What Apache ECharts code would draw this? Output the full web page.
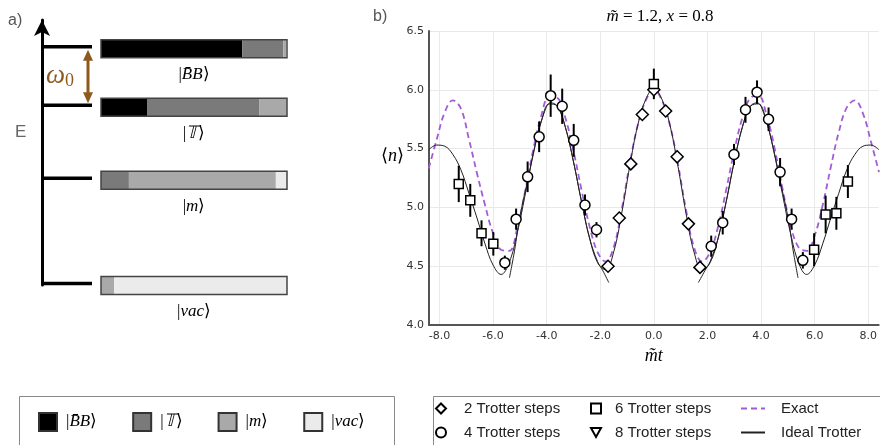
<!DOCTYPE html>
<html>
<head>
<meta charset="utf-8">
<script src="https://cdn.jsdelivr.net/npm/echarts@6/dist/echarts.min.js"></script>
<style>
html, body { margin: 0; padding: 0; background: #fff; }
#chart { width: 880px; height: 445px; }
</style>
</head>
<body>
<div id="chart"></div>
<script>
// panel a: energy levels and how each state is made up
var stateKets = ['B\u0304B', '\ud835\udd4b', 'm', 'vac'];
var stateEnergy = [8.99, 6.78, 4.03, 0.06];
var compBB = [0.76, 0.25, 0, 0];
var compT = [0.22, 0.60, 0.15, 0];
var compM = [0.015, 0.15, 0.79, 0.07];
var compVac = [0.005, 0, 0.06, 0.93];

// panel b: curves
var exactT = [-8.4, -8.1, -7.8, -7.5, -7.2, -6.9, -6.6, -6.3, -6.0, -5.7, -5.4, -5.1, -4.8, -4.5, -4.2, -3.9, -3.6, -3.3, -3.0, -2.7, -2.4, -2.1, -1.8, -1.5, -1.2, -0.9, -0.6, -0.3,
  0, 0.3, 0.6, 0.9, 1.2, 1.5, 1.8, 2.1, 2.4, 2.7, 3.0, 3.3, 3.6, 3.9, 4.2, 4.5, 4.8, 5.1, 5.4, 5.7, 6.0, 6.3, 6.6, 6.9, 7.2, 7.5, 7.8, 8.1, 8.4];
var exactN = [5.33, 5.58, 5.81, 5.91, 5.84, 5.58, 5.29, 5.02, 4.78, 4.64, 4.63, 4.82, 5.14, 5.49, 5.78, 5.94, 5.93, 5.76, 5.48, 5.15, 4.84, 4.62, 4.54, 4.66, 4.98, 5.37, 5.70, 5.91,
  6.00, 5.91, 5.70, 5.37, 4.98, 4.66, 4.54, 4.62, 4.84, 5.15, 5.48, 5.76, 5.93, 5.95, 5.79, 5.51, 5.16, 4.85, 4.66, 4.63, 4.76, 5.02, 5.34, 5.64, 5.85, 5.91, 5.80, 5.56, 5.30];
var idealN = [5.49, 5.53, 5.52, 5.45, 5.32, 5.12, 4.91, 4.69, 4.51, 4.43, 4.53, 4.78, 5.11, 5.45, 5.73, 5.88, 5.86, 5.68, 5.39, 5.05, 4.74, 4.53, 4.47, 4.62, 4.95, 5.35, 5.70, 5.92,
  6.01, 5.92, 5.70, 5.35, 4.95, 4.62, 4.47, 4.53, 4.74, 5.05, 5.39, 5.68, 5.86, 5.88, 5.73, 5.45, 5.11, 4.78, 4.53, 4.43, 4.51, 4.69, 4.91, 5.12, 5.32, 5.45, 5.52, 5.53, 5.49];
var idealLeftT = [-5.39, -5.2, -5.0, -4.7, -4.4, -4.1, -3.85, -3.6, -3.3, -3.0, -2.7, -2.4, -2.1, -1.9, -1.68];
var idealLeftN = [4.40, 4.63, 4.92, 5.24, 5.56, 5.80, 5.89, 5.86, 5.68, 5.39, 5.05, 4.74, 4.54, 4.46, 4.36];
var idealRightT = [1.66, 1.9, 2.1, 2.4, 2.7, 3.0, 3.3, 3.6, 3.85, 4.1, 4.4, 4.7, 5.0, 5.2, 5.38];
var idealRightN = [4.36, 4.46, 4.54, 4.74, 5.05, 5.39, 5.68, 5.86, 5.89, 5.80, 5.56, 5.24, 4.92, 4.63, 4.40];

// panel b: measured points
var diamondT = [-1.71, -1.29, -0.86, -0.43, 0, 0.44, 0.87, 1.29, 1.72];
var diamondN = [4.50, 4.91, 5.37, 5.79, 6.00, 5.82, 5.43, 4.86, 4.49];
var circleT = [-5.56, -5.14, -4.71, -4.28, -3.85, -3.42, -2.99, -2.57, -2.14, 2.14, 2.57, 2.99, 3.42, 3.85, 4.28, 4.71, 5.14, 5.56];
var circleN = [4.53, 4.90, 5.26, 5.60, 5.95, 5.86, 5.57, 5.02, 4.81, 4.67, 4.87, 5.45, 5.83, 5.98, 5.75, 5.30, 4.90, 4.55];
var circleErr = [0.06, 0.09, 0.13, 0.13, 0.18, 0.15, 0.14, 0.09, 0.065, 0.09, 0.10, 0.09, 0.11, 0.10, 0.10, 0.12, 0.09, 0.07];
var squareT = [-7.28, -6.85, -6.43, -5.99, 0, 5.98, 6.41, 6.81, 7.24];
var squareN = [5.20, 5.06, 4.78, 4.69, 6.05, 4.64, 4.94, 4.95, 5.22];
var squareErr = [0.155, 0.14, 0.11, 0.10, 0.13, 0.14, 0.16, 0.14, 0.14];
var triangleT = [];
var triangleN = [];

var xTicks = [-8, -6, -4, -2, 0, 2, 4, 6, 8];

var chart = echarts.init(document.getElementById('chart'), null, { renderer: 'canvas' });

var serif = 'Liberation Serif';
var compColors = ['#000000', '#7a7a7a', '#a9a9a9', '#ebebeb'];
var comps = [compBB, compT, compM, compVac];

function ketName(k) { return '|' + stateKets[k] + '\u27e9'; }
function ketRich(name) { return '{u||}{i|' + name.slice(1, -1) + '}{u|\u27e9}'; }
function zip(a, b, c) {
  return a.map(function (v, i) { return c ? [v, b[i], c[i]] : [v, b[i]]; });
}

// composition bars, one series per component
var compSeries = comps.map(function (frac, k) {
  var data = stateEnergy.map(function (e, i) {
    var start = 0;
    for (var j = 0; j < k; j++) start += comps[j][i];
    return [start, start + frac[i], e];
  });
  return {
    type: 'custom', name: ketName(k), xAxisIndex: 2, yAxisIndex: 2,
    itemStyle: { color: compColors[k], borderColor: '#333', borderWidth: 1.5 },
    encode: { x: [0, 1], y: 2 },
    renderItem: function (params, api) {
      var p0 = api.coord([api.value(0), api.value(2)]);
      var p1 = api.coord([api.value(1), api.value(2)]);
      return {
        type: 'rect',
        shape: { x: p0[0], y: p0[1] - 7, width: p1[0] - p0[0], height: 18 },
        style: { fill: compColors[k] }
      };
    },
    data: data, z: 2
  };
});

// outline and ket label of each bar
var outlineSeries = {
  type: 'custom', xAxisIndex: 2, yAxisIndex: 2, z: 3,
  encode: { x: [0, 1], y: 2 },
  renderItem: function (params, api) {
    var p0 = api.coord([0, api.value(2)]);
    var p1 = api.coord([1, api.value(2)]);
    return {
      type: 'group',
      children: [{
        type: 'rect',
        shape: { x: p0[0], y: p0[1] - 7, width: p1[0] - p0[0], height: 18 },
        style: { fill: null, stroke: '#444', lineWidth: 1.5 }
      }, {
        type: 'text',
        style: {
          x: (p0[0] + p1[0]) / 2, y: p0[1] + 28, align: 'center', verticalAlign: 'middle',
          text: ketRich(ketName(params.dataIndex)),
          rich: {
            u: { fontFamily: serif, fontSize: 17, fill: '#000' },
            i: { fontFamily: serif, fontSize: 17, fontStyle: 'italic', fill: '#000' }
          }
        }
      }]
    };
  },
  data: stateEnergy.map(function (e) { return [0, 1, e]; })
};

// level ticks on the energy axis
var levelSeries = {
  type: 'custom', xAxisIndex: 1, yAxisIndex: 1, z: 3,
  encode: { x: [0, 1], y: 2 },
  renderItem: function (params, api) {
    var p0 = api.coord([api.value(0), api.value(2)]);
    var p1 = api.coord([api.value(1), api.value(2)]);
    return {
      type: 'line',
      shape: { x1: p0[0], y1: p0[1], x2: p1[0], y2: p1[1] },
      style: { stroke: '#000', lineWidth: 3.5 }
    };
  },
  data: stateEnergy.map(function (e) { return [0, 1, e]; })
};

// omega_0 gap arrow between the two highest levels
var gapSeries = {
  type: 'custom', xAxisIndex: 1, yAxisIndex: 1, z: 4,
  encode: { x: 0, y: [1, 2] },
  renderItem: function (params, api) {
    var top = api.coord([api.value(0), api.value(1)]);
    var bot = api.coord([api.value(0), api.value(2)]);
    var x = top[0], y0 = top[1] + 3, y1 = bot[1] - 2;
    var mid = api.coord([0.36, (api.value(1) + api.value(2)) / 2]);
    var brown = '#8c5a1e';
    return {
      type: 'group',
      children: [{
        type: 'line', shape: { x1: x, y1: y0 + 8, x2: x, y2: y1 - 8 },
        style: { stroke: brown, lineWidth: 3 }
      }, {
        type: 'polygon', shape: { points: [[x, y0], [x - 5, y0 + 11], [x + 5, y0 + 11]] },
        style: { fill: brown }
      }, {
        type: 'polygon', shape: { points: [[x, y1], [x - 5, y1 - 11], [x + 5, y1 - 11]] },
        style: { fill: brown }
      }, {
        type: 'text',
        style: {
          x: mid[0], y: mid[1], align: 'center', verticalAlign: 'middle',
          text: '{w|\u03c9}{s|0}',
          rich: {
            w: { fontFamily: serif, fontStyle: 'italic', fontSize: 27, fill: brown },
            s: { fontFamily: serif, fontSize: 18, fill: brown, padding: [10, 0, 0, 0] }
          }
        }
      }]
    };
  },
  data: [[0.92, stateEnergy[0], stateEnergy[1]]]
};

function errSeries(data) {
  return {
    type: 'custom', xAxisIndex: 0, yAxisIndex: 0, z: 4,
    encode: { x: 0, y: 1 },
    renderItem: function (params, api) {
      var x = api.value(0), v = api.value(1), e = api.value(2);
      var lo = api.coord([x, v - e]), hi = api.coord([x, v + e]);
      return {
        type: 'line', shape: { x1: lo[0], y1: lo[1], x2: hi[0], y2: hi[1] },
        style: { stroke: '#000', lineWidth: 2 }
      };
    },
    data: data
  };
}

var markerStyle = { color: '#fff', borderColor: '#000', borderWidth: 1.5, opacity: 1 };
var legendFont = { fontFamily: 'Liberation Sans', fontSize: 15, color: '#222' };

var option = {
  animation: false,
  backgroundColor: '#fff',
  title: {
    text: '{i|m\u0303} = 1.2, {i|x} = 0.8',
    left: 655, top: 3, textAlign: 'center',
    textStyle: {
      fontFamily: serif, fontSize: 17, fontWeight: 'normal', color: '#000',
      rich: { i: { fontFamily: serif, fontSize: 17, fontStyle: 'italic', color: '#000' } }
    }
  },
  grid: [
    { left: 429, top: 31, width: 453, height: 294 },
    { left: 42, top: 20, width: 50, height: 265 },
    { left: 101, top: 20, width: 186, height: 265 }
  ],
  xAxis: [{
    gridIndex: 0, type: 'value', min: -8.39, max: 8.39,
    axisLine: { show: true, onZero: false, lineStyle: { color: '#555', width: 2 } },
    axisTick: { show: false },
    splitLine: { show: false },
    axisLabel: {
      customValues: xTicks, margin: 6, color: '#333', fontSize: 11, fontFamily: 'DejaVu Sans',
      formatter: function (v) { return v.toFixed(1); }
    },
    name: 'm\u0303t', nameLocation: 'middle', nameGap: 18,
    nameTextStyle: { fontFamily: serif, fontStyle: 'italic', fontSize: 18, color: '#000' }
  }, {
    gridIndex: 1, type: 'value', min: 0, max: 1, show: false
  }, {
    gridIndex: 2, type: 'value', min: 0, max: 1, show: false
  }],
  yAxis: [{
    gridIndex: 0, type: 'value', min: 4, max: 6.5, interval: 0.5,
    axisLine: { show: true, onZero: false, lineStyle: { color: '#555', width: 2 } },
    axisTick: { show: false },
    splitLine: { show: true, lineStyle: { color: '#e9e9e9', width: 1 } },
    axisLabel: {
      margin: 5, color: '#333', fontSize: 11, fontFamily: 'DejaVu Sans',
      formatter: function (v) { return v.toFixed(1); }
    }
  }, {
    gridIndex: 1, type: 'value', min: 0, max: 10,
    axisLine: {
      show: true, onZero: false, symbol: ['none', 'arrow'], symbolSize: [12, 16],
      lineStyle: { color: '#000', width: 3 }
    },
    axisTick: { show: false }, axisLabel: { show: false }, splitLine: { show: false }
  }, {
    gridIndex: 2, type: 'value', min: 0, max: 10, show: false
  }],
  legend: [{
    left: 38, top: 412, padding: 0, itemWidth: 18, itemHeight: 18, itemGap: 35, icon: 'rect',
    selectedMode: false,
    data: stateKets.map(function (s, k) { return ketName(k); }),
    formatter: ketRich,
    textStyle: {
      padding: [0, 0, 0, 4],
      rich: {
        u: { fontFamily: serif, fontSize: 17, color: '#000' },
        i: { fontFamily: serif, fontSize: 17, fontStyle: 'italic', color: '#000' }
      }
    }
  }, {
    orient: 'vertical', left: 435, top: 401, height: 60, padding: 0,
    itemWidth: 10, itemHeight: 10, itemGap: 9, selectedMode: false,
    data: ['2 Trotter steps', '4 Trotter steps'],
    textStyle: Object.assign({ padding: [0, 0, 0, 13] }, legendFont)
  }, {
    orient: 'vertical', left: 590, top: 401, height: 60, padding: 0,
    itemWidth: 10, itemHeight: 10, itemGap: 9, selectedMode: false,
    data: ['6 Trotter steps', '8 Trotter steps'],
    textStyle: Object.assign({ padding: [0, 0, 0, 9] }, legendFont)
  }, {
    orient: 'vertical', left: 740, top: 401, height: 60, padding: 0,
    itemWidth: 24, itemHeight: 10, itemGap: 9, selectedMode: false,
    data: [
      { name: 'Exact', itemStyle: { opacity: 0 } },
      { name: 'Ideal Trotter', itemStyle: { opacity: 0 } }
    ],
    textStyle: Object.assign({ padding: [0, 0, 0, 11] }, legendFont)
  }],
  graphic: [
    { type: 'rect', left: 17, top: 394, shape: { width: 375, height: 70 }, style: { fill: 'none', stroke: '#888', lineWidth: 1 }, z: -1 },
    { type: 'rect', left: 431, top: 394, shape: { width: 460, height: 70 }, style: { fill: 'none', stroke: '#888', lineWidth: 1 }, z: -1 },
    { type: 'text', left: 8, top: 13, style: { text: 'a)', font: '16px "Liberation Sans"', fill: '#555' } },
    { type: 'text', left: 373, top: 9, style: { text: 'b)', font: '16px "Liberation Sans"', fill: '#555' } },
    { type: 'text', left: 15, top: 124, style: { text: 'E', font: '17px "Liberation Sans"', fill: '#666' } },
    { type: 'text', left: 381, top: 147, style: { text: '{u|\u27e8}{i|n}{u|\u27e9}', rich: {
      u: { fontFamily: serif, fontSize: 18, fill: '#000' },
      i: { fontFamily: serif, fontSize: 18, fontStyle: 'italic', fill: '#000' } } } }
  ],
  series: compSeries.concat([outlineSeries, levelSeries, gapSeries, {
    type: 'line', name: 'Exact', xAxisIndex: 0, yAxisIndex: 0, z: 2,
    data: zip(exactT, exactN), smooth: 0.4, symbol: 'none',
    lineStyle: { color: '#a35bd6', width: 1.8, type: [6, 4] },
    itemStyle: { color: '#a35bd6' },
    markLine: {
      silent: true, symbol: 'none', label: { show: false }, z: 0,
      lineStyle: { color: '#e9e9e9', width: 1, type: 'solid' },
      data: xTicks.map(function (v) { return { xAxis: v }; })
    }
  }, {
    type: 'line', name: 'Ideal Trotter', xAxisIndex: 0, yAxisIndex: 0, z: 3,
    data: zip(exactT, idealN), smooth: 0.4, symbol: 'none',
    lineStyle: { color: '#222', width: 1 }, itemStyle: { color: '#222' }
  }, {
    type: 'line', name: 'Ideal Trotter 4', xAxisIndex: 0, yAxisIndex: 0, z: 3,
    data: zip(idealLeftT, idealLeftN), smooth: 0.4, symbol: 'none',
    lineStyle: { color: '#222', width: 1 }
  }, {
    type: 'line', name: 'Ideal Trotter 4b', xAxisIndex: 0, yAxisIndex: 0, z: 3,
    data: zip(idealRightT, idealRightN), smooth: 0.4, symbol: 'none',
    lineStyle: { color: '#222', width: 1 }
  },
  errSeries(zip(circleT, circleN, circleErr)),
  errSeries(zip(squareT, squareN, squareErr)),
  {
    type: 'scatter', name: '2 Trotter steps', xAxisIndex: 0, yAxisIndex: 0, z: 5,
    symbol: 'diamond', symbolSize: 12, itemStyle: markerStyle, data: zip(diamondT, diamondN)
  }, {
    type: 'scatter', name: '4 Trotter steps', xAxisIndex: 0, yAxisIndex: 0, z: 5,
    symbol: 'circle', symbolSize: 10, itemStyle: markerStyle, data: zip(circleT, circleN)
  }, {
    type: 'scatter', name: '6 Trotter steps', xAxisIndex: 0, yAxisIndex: 0, z: 5,
    symbol: 'rect', symbolSize: 9, itemStyle: markerStyle, data: zip(squareT, squareN)
  }, {
    type: 'scatter', name: '8 Trotter steps', xAxisIndex: 0, yAxisIndex: 0, z: 5,
    symbol: 'path://M0,0L10,0L5,9Z', symbolSize: 10, itemStyle: markerStyle, data: zip(triangleT, triangleN)
  }])
};

chart.setOption(option);
</script>
</body>
</html>
